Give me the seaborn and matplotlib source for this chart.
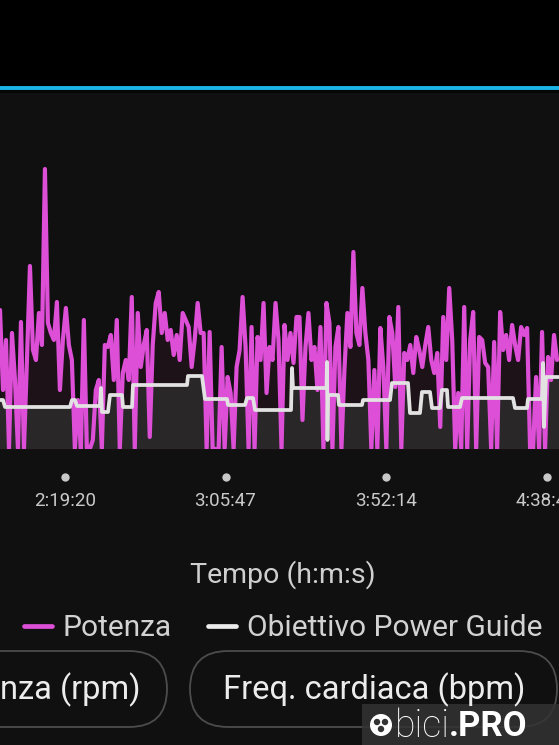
import numpy as np
import pandas as pd
import matplotlib
matplotlib.use("Agg")
import matplotlib.pyplot as plt
import seaborn as sns
from matplotlib.lines import Line2D
from matplotlib.patches import FancyBboxPatch, Rectangle, Circle
from matplotlib.transforms import blended_transform_factory

# power samples (W), one every 52 s starting at 2:00:31
power = [
    556, 236, 436, 0, 464, 276, 0, 508, 0, 356,
    732, 396, 356, 544, 416, 1120, 504, 464, 436, 588,
    236, 436, 564, 416, 356, 0, 196, 0, 516, 0,
    0, 36, 236, 276, 0, 416, 408, 456, 276, 516,
    0, 304, 356, 276, 608, 0, 544, 328, 416, 476,
    48, 416, 584, 628, 464, 544, 436, 476, 376, 456,
    356, 544, 516, 488, 328, 436, 584, 464, 464, 0,
    468, 0, 0, 0, 408, 0, 288, 224, 0, 328,
    396, 608, 408, 0, 488, 0, 448, 356, 584, 224,
    408, 356, 584, 436, 0, 496, 356, 464, 344, 528,
    528, 116, 408, 544, 356, 408, 236, 488, 0, 584,
    504, 0, 408, 488, 0, 316, 544, 408, 788, 464,
    416, 644, 464, 356, 0, 316, 0, 484, 328, 0,
    528, 464, 248, 568, 0, 384, 356, 416, 304, 448,
    396, 328, 416, 488, 356, 304, 384, 88, 528, 356,
    644, 436, 0, 224, 0, 568, 0, 436, 548, 0,
    448, 436, 344, 328, 0, 428, 0, 548, 396, 456,
    356, 496, 416, 356, 488, 456, 484, 0, 0, 288,
    0, 468, 0, 368, 276, 456, 356,
]
start_s = 7231
step_s = 52
end_s = 16937

# Power Guide target (time in s, W)
target_time = [
    7231, 7283, 7318, 8446, 8481, 8533, 8568, 8967, 8985, 9002, 9106, 9141,
    9349, 9367, 9523, 9540, 10478, 10495, 10738, 10790, 11173, 11190, 11485,
    11520, 11624, 11659, 12284, 12301, 12318, 12900, 12909, 12917, 12926,
    13100, 13117, 13516, 13534, 14003, 14037, 14315, 14350, 14523, 14558,
    14697, 14732, 14871, 14905, 14992, 15010, 15218, 15253, 16138, 16173,
    16381, 16399, 16641, 16659, 16676, 16711, 16937,
]
target_watts = [
    196, 196, 168, 168, 196, 196, 172, 172, 244, 148, 148, 216,
    216, 168, 168, 256, 256, 292, 292, 200, 200, 176, 176,
    204, 204, 156, 156, 324, 244, 244, 348, 36, 216,
    216, 176, 176, 196, 196, 264, 264, 144, 144, 228,
    228, 164, 164, 236, 236, 168, 168, 204, 204, 164,
    164, 200, 200, 344, 88, 288, 288,
]

tick_secs = [8360, 11147, 13934, 16721]
tick_labels = ["2:19:20", "3:05:47", "3:52:14", "4:38:41"]

power_df = pd.DataFrame({"time": start_s + step_s * np.arange(len(power)), "power": power})
target_df = pd.DataFrame({"time": target_time, "target": target_watts})

sns.set_style("dark")
plt.rcParams["font.family"] = ["Roboto", "DejaVu Sans"]

W, H = 559, 745
fig = plt.figure(figsize=(W / 100, H / 100), dpi=100)
fig.patch.set_facecolor("#101010")

# pixel-space overlay for the app chrome
over = fig.add_axes([0, 0, 1, 1], zorder=0)
over.set_xlim(0, W)
over.set_ylim(H, 0)
over.axis("off")
over.add_patch(Rectangle((0, 0), W, 86, color="black", lw=0))
over.add_patch(Rectangle((0, 89.5), W, 3, color="#060606", lw=0))
over.plot([0, W], [87.5, 87.5], color="#1ab4e6", lw=2.8, solid_capstyle="butt")

# chart
ax = fig.add_axes([0, 1 - 449 / H, 1, 359 / H], zorder=1)
ax.set_facecolor("none")
ax.fill_between(power_df["time"], power_df["power"], color="#1e1219", lw=0, zorder=1)
ax.fill_between(target_df["time"], target_df["target"], color="#2a2729", lw=0, zorder=2)
sns.lineplot(data=power_df, x="time", y="power", ax=ax, color="#dd4fd7", lw=3.0,
             estimator=None, sort=False, zorder=3, legend=False)
sns.lineplot(data=target_df, x="time", y="target", ax=ax, color="#e2e2e2", lw=2.7,
             estimator=None, sort=False, zorder=4, legend=False)
ax.set_xlim(start_s, end_s)
ax.set_ylim(0, 1436)
for s in ax.spines.values():
    s.set_visible(False)
ax.set_yticks([])
ax.set_xticks(tick_secs)
ax.set_xticklabels(tick_labels, color="#cacaca", fontsize=13.5)
ax.tick_params(axis="x", length=0, pad=31)
ax.set_xlabel("")
ax.set_ylabel("")
tr = blended_transform_factory(ax.transData, ax.transAxes)
ax.scatter(tick_secs, [-28 / 359] * len(tick_secs), s=36, color="#c8c8c8",
           transform=tr, clip_on=False, zorder=5, lw=0)

fig.text(283 / W, 1 - 575 / H, "Tempo (h:m:s)", ha="center", va="center",
         color="#cfcfcf", fontsize=20.5)

handles = [Line2D([], [], color="#dd4fd7", lw=3.4),
           Line2D([], [], color="#ececec", lw=3.4)]
fig.legend(handles, ["Potenza", "Obiettivo Power Guide"], loc="center",
           bbox_to_anchor=(283 / W, 1 - 628 / H), ncol=2, frameon=False,
           fontsize=21.5, labelcolor="#d2d2d2", handlelength=0.95,
           handletextpad=0.35, columnspacing=1.2)

# pill buttons
for x0, x1 in [(-80, 167), (190, 557)]:
    over.add_patch(FancyBboxPatch((x0, 651), x1 - x0, 76,
                                  boxstyle="round,pad=0,rounding_size=38",
                                  fc="none", ec="#4c4c4c", lw=1.3))
over.text(0, 690, "nza (rpm)", ha="left", va="center", color="#ececec", fontsize=23.5)
over.text(374, 690, "Freq. cardiaca (bpm)", ha="center", va="center",
          color="#ececec", fontsize=23.5)

# watermark
over.add_patch(Rectangle((362, 704), W - 362, H - 704, fc="#333333", alpha=0.85, lw=0))
over.add_patch(Circle((381, 725), 11, fc="white", lw=0))
for dx, dy in [(-4, -3), (4, -3), (0, 4)]:
    over.add_patch(Circle((381 + dx, 725 + dy), 3.2, fc="#333333", lw=0))
over.text(395, 726, "bici", ha="left", va="center", color="white",
          fontsize=27, fontweight="light")
over.text(449, 726, ".PRO", ha="left", va="center", color="white",
          fontsize=25, fontweight="bold")

fig.savefig("out.png", dpi=100, facecolor=fig.get_facecolor())
